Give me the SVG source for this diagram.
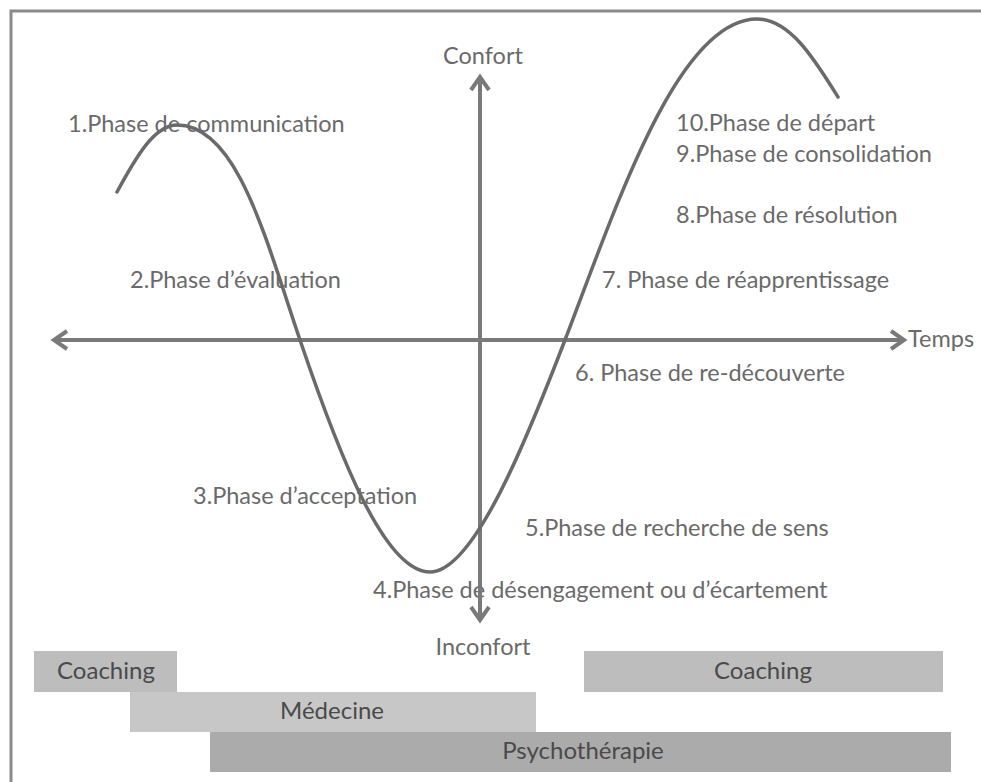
<svg xmlns="http://www.w3.org/2000/svg" width="981" height="782" viewBox="0 0 981 782">
<style>
.lbl{font-family:Lato,"Liberation Sans",sans-serif;font-size:23.5px;fill:#6a6a6a}
.box{font-family:Lato,"Liberation Sans",sans-serif;font-size:24px;fill:#4a4a4a;text-anchor:middle}
.ax{stroke:#7a7a7a;stroke-width:4;fill:none}
.curve{stroke:#6a6a6a;stroke-width:3.5;fill:none;stroke-linecap:round}
</style>
<defs>
<marker id="arr" markerUnits="userSpaceOnUse" markerWidth="30" markerHeight="30" refX="0" refY="0" viewBox="-20 -15 30 30" orient="auto-start-reverse" overflow="visible">
<path d="M-13,-9 L0,0 L-13,9" stroke="#7a7a7a" stroke-width="4" fill="none" stroke-linejoin="miter"/>
</marker>
</defs>
<rect width="981" height="782" fill="#ffffff"/>
<g id="frame">
<path d="M11,782 L11,11 L981,11" stroke="#8a8a8a" stroke-width="3" fill="none"/>
</g>
<g id="bars">
<g id="coaching-left"><rect x="34" y="651" width="143" height="41" fill="#bdbdbd"/><text class="box" x="106" y="679">Coaching</text></g>
<g id="medecine"><rect x="130" y="692" width="406" height="40" fill="#c7c7c7"/><text class="box" x="332" y="719">Médecine</text></g>
<g id="psycho"><rect x="210" y="732" width="741" height="40" fill="#ababab"/><text class="box" x="583" y="759">Psychothérapie</text></g>
<g id="coaching-right"><rect x="584" y="651" width="359" height="41" fill="#bdbdbd"/><text class="box" x="763" y="679">Coaching</text></g>
</g>
<g id="labels">
<text id="p1" class="lbl" x="68" y="132">1.Phase de communication</text>
<text id="p2" class="lbl" x="130" y="288">2.Phase d’évaluation</text>
<text id="p3" class="lbl" x="193" y="504">3.Phase d’acceptation</text>
<text id="p4" class="lbl" x="373" y="598">4.Phase de désengagement ou d’écartement</text>
<text id="p5" class="lbl" x="525" y="536">5.Phase de recherche de sens</text>
<text id="p6" class="lbl" x="575" y="381">6. Phase de re-découverte</text>
<text id="p7" class="lbl" x="602" y="288">7. Phase de réapprentissage</text>
<text id="p8" class="lbl" x="676" y="223">8.Phase de résolution</text>
<text id="p9" class="lbl" x="676" y="162">9.Phase de consolidation</text>
<text id="p10" class="lbl" x="676" y="131">10.Phase de départ</text>
<text id="confort" class="lbl" x="483" y="64" text-anchor="middle">Confort</text>
<text id="inconfort" class="lbl" x="483" y="655" text-anchor="middle">Inconfort</text>
<text id="temps" class="lbl" x="908" y="347">Temps</text>
</g>
<g id="connectors">
<line class="ax" x1="54" y1="340" x2="904" y2="340" marker-start="url(#arr)" marker-end="url(#arr)"/>
<line class="ax" x1="480" y1="620" x2="480" y2="77" marker-start="url(#arr)" marker-end="url(#arr)"/>
<path id="curve" class="curve" d="M117,192 C137,155 155,125 177,125 C237,125 265,237 300,340 C340,458 385,572 430,572 C475,572 530,431 565,340 C615,210 677,19 757,19 C790,19 815,60 838,97"/>
</g>
</svg>
